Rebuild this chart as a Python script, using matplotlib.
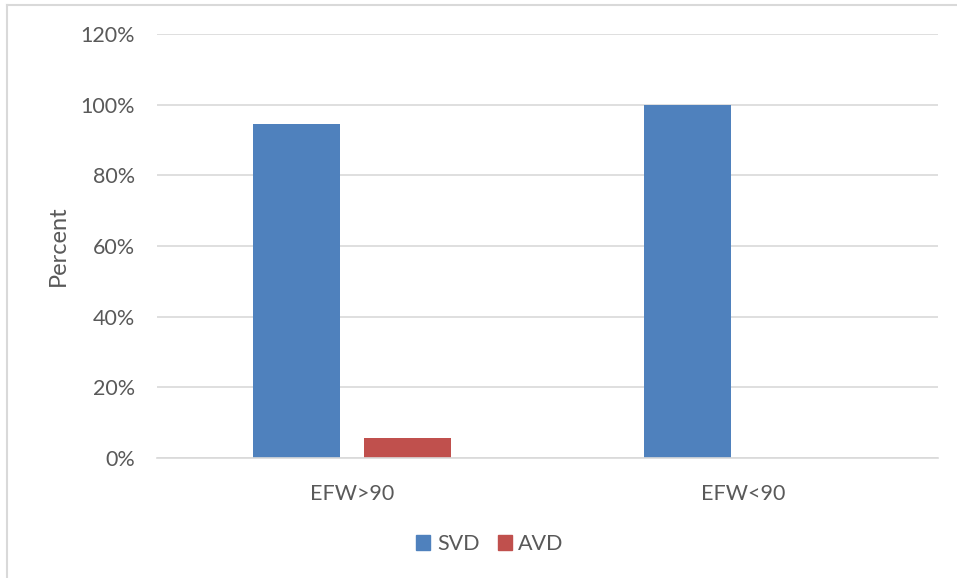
import matplotlib.pyplot as plt
import numpy as np
from matplotlib.lines import Line2D
from matplotlib.patches import Patch

categories = ["EFW>90", "EFW<90"]
svd = [94.4, 100.0]
avd = [5.6, 0.0]
yticks = [0, 20, 40, 60, 80, 100, 120]

W, H = 957, 578
text_grey = "#595959"
grid_grey = "#d9d9d9"

plt.rcParams["font.family"] = ["Lato", "DejaVu Sans"]

fig = plt.figure(figsize=(W / 100, H / 100), dpi=100)
ax = fig.add_axes([157 / W, 1 - 458 / H, (938 - 157) / W, (458 - 34) / H])

x = np.arange(len(categories))
width = 0.223
off = 0.1425
ax.bar(x - off, svd, width, color="#4f81bd", label="SVD", zorder=3)
ax.bar(x + off, avd, width, color="#c0504d", label="AVD", zorder=3)

ax.set_xlim(-0.5, len(categories) - 0.5)
ax.set_ylim(0, 120)
ax.set_yticks(yticks)
ax.set_yticklabels([f"{t}%" for t in yticks])
ax.set_xticks(x)
ax.set_xticklabels(categories)
ax.tick_params(axis="both", length=0, labelsize=15.5, colors=text_grey)
ax.tick_params(axis="y", pad=16)
ax.tick_params(axis="x", pad=19)
ax.grid(axis="y", color=grid_grey, linewidth=1.2, zorder=0)
for side in ("top", "right", "left"):
    ax.spines[side].set_visible(False)
ax.spines["bottom"].set_color(grid_grey)
ax.spines["bottom"].set_linewidth(1.2)
ax.spines["bottom"].set_zorder(4)

fig.text(58 / W, 1 - 246 / H, "Percent", rotation=90, ha="center", va="center",
         fontsize=17, color=text_grey)

handles = [Patch(color="#4f81bd"), Patch(color="#c0504d")]
fig.legend(handles, ["SVD", "AVD"], loc="center", bbox_to_anchor=(490 / W, 1 - 544 / H),
           ncol=2, frameon=False, fontsize=15.5, labelcolor=text_grey,
           handlelength=0.65, handleheight=0.65, handletextpad=0.3, columnspacing=0.85)

# light frame around the chart area (left and top edges only)
fig.add_artist(Line2D([6.5 / W, 6.5 / W], [0, 1 - 5 / H], color=grid_grey, linewidth=1.5,
                      transform=fig.transFigure))
fig.add_artist(Line2D([6.5 / W, 1], [1 - 5 / H, 1 - 5 / H], color=grid_grey, linewidth=1.5,
                      transform=fig.transFigure))

fig.savefig("out.png", dpi=100)
